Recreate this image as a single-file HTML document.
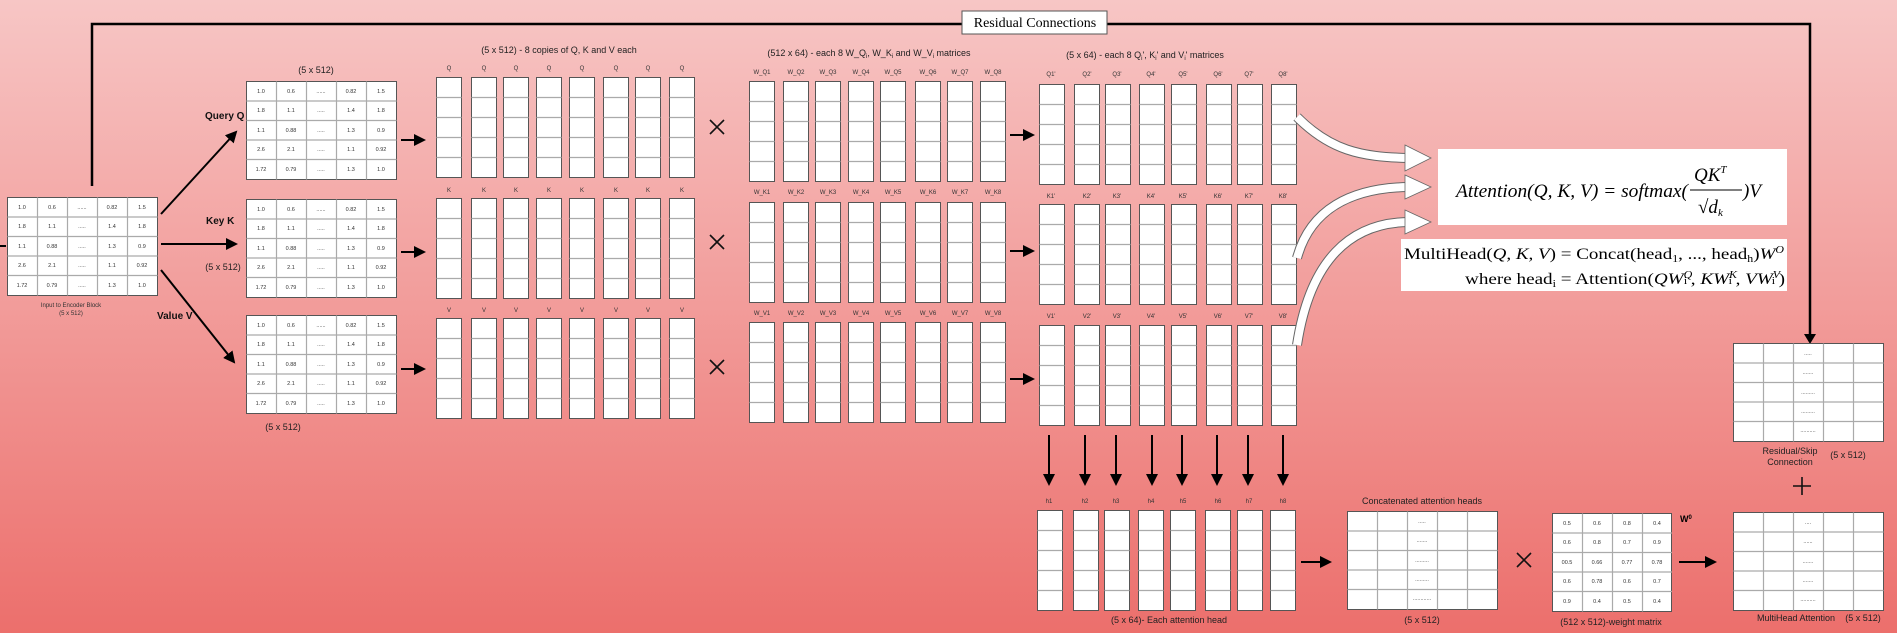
<!DOCTYPE html>
<html><head><meta charset="utf-8"><style>
html,body{margin:0;padding:0;width:1897px;height:633px;overflow:hidden}
body{background:linear-gradient(#f7c6c5,#ec6f6c)}
svg{position:absolute;left:0;top:0;font-family:"Liberation Sans",sans-serif}
.t{font-size:5.5px;fill:#333;text-anchor:middle}
.l{font-size:6px;fill:#333;text-anchor:middle}
.h{font-size:9px;fill:#222;text-anchor:middle}
.b{font-size:10px;font-weight:bold;fill:#111}
</style></head><body>
<svg width="1897" height="633" viewBox="0 0 1897 633">
<defs>
<marker id="ah" markerWidth="6" markerHeight="6" refX="5" refY="3" orient="auto" markerUnits="strokeWidth"><path d="M0,0 L6,3 L0,6 z" fill="#000"/></marker>
<symbol id="col" width="26" height="102" overflow="visible">
<rect x="0.5" y="0.5" width="25" height="100" fill="#fff" stroke="#555"/>
<path d="M0.5 20.5H25.5M0.5 40.5H25.5M0.5 60.5H25.5M0.5 80.5H25.5" stroke="#aaa" stroke-width="1.2"/>
</symbol>
<symbol id="m5" width="152" height="100" overflow="visible">
<rect x="0.5" y="0.5" width="150" height="98" fill="#fff" stroke="#555"/>
<path d="M30.5 0.5V98.5M60.5 0.5V98.5M90.5 0.5V98.5M120.5 0.5V98.5M0.5 20H150.5M0.5 39.5H150.5M0.5 59H150.5M0.5 78.5H150.5" stroke="#aaa" stroke-width="1.2"/>
</symbol>
<symbol id="m4" width="121" height="100" overflow="visible">
<rect x="0.5" y="0.5" width="119" height="98" fill="#fff" stroke="#555"/>
<path d="M30.5 0.5V98.5M60.5 0.5V98.5M90.5 0.5V98.5M0.5 20H120M0.5 39.5H120M0.5 59H120M0.5 78.5H120" stroke="#aaa" stroke-width="1.2"/>
</symbol>
</defs>

<path d="M92 186V24H1810V338" fill="none" stroke="#000" stroke-width="2.5"/>
<path d="M1804 334L1810 344L1816 334z" fill="#000"/>
<rect x="962" y="11" width="145" height="23" fill="#fff" stroke="#555"/>
<text x="1035" y="27" style="font-family:'Liberation Serif',serif;font-size:14px;text-anchor:middle">Residual Connections</text>

<path d="M0 246H6" stroke="#000" stroke-width="2"/>
<use href="#m5" x="7" y="197"/>
<g class="t">
<text x="22" y="209">1.0</text><text x="52" y="209">0.6</text><text x="82" y="209">......</text><text x="112" y="209">0.82</text><text x="142" y="209">1.5</text>
<text x="22" y="228">1.8</text><text x="52" y="228">1.1</text><text x="82" y="228">.....</text><text x="112" y="228">1.4</text><text x="142" y="228">1.8</text>
<text x="22" y="248">1.1</text><text x="52" y="248">0.88</text><text x="82" y="248">.....</text><text x="112" y="248">1.3</text><text x="142" y="248">0.9</text>
<text x="22" y="267">2.6</text><text x="52" y="267">2.1</text><text x="82" y="267">.....</text><text x="112" y="267">1.1</text><text x="142" y="267">0.92</text>
<text x="22" y="287">1.72</text><text x="52" y="287">0.79</text><text x="82" y="287">.....</text><text x="112" y="287">1.3</text><text x="142" y="287">1.0</text>
</g>
<text x="71" y="307" class="l">Input to Encoder Block</text>
<text x="71" y="315" class="l">(5 x 512)</text>

<g stroke="#000" stroke-width="2" marker-end="url(#ah)" fill="none">
<path d="M161 214L236 132"/><path d="M161 244L236 244"/><path d="M161 270L234 362"/>
<path d="M401 140L424 140"/><path d="M401 252L424 252"/><path d="M401 369L424 369"/>
<path d="M1010 135L1033 135"/><path d="M1010 251L1033 251"/><path d="M1010 379L1033 379"/>
<path d="M1301 562L1330 562"/><path d="M1679 562L1715 562"/>
</g>

<use href="#m5" x="246" y="81"/><use href="#m5" x="246" y="199"/><use href="#m5" x="246" y="315"/>
<g class="t" transform="translate(239,-116)">
<text x="22" y="209">1.0</text><text x="52" y="209">0.6</text><text x="82" y="209">......</text><text x="112" y="209">0.82</text><text x="142" y="209">1.5</text>
<text x="22" y="228">1.8</text><text x="52" y="228">1.1</text><text x="82" y="228">.....</text><text x="112" y="228">1.4</text><text x="142" y="228">1.8</text>
<text x="22" y="248">1.1</text><text x="52" y="248">0.88</text><text x="82" y="248">.....</text><text x="112" y="248">1.3</text><text x="142" y="248">0.9</text>
<text x="22" y="267">2.6</text><text x="52" y="267">2.1</text><text x="82" y="267">.....</text><text x="112" y="267">1.1</text><text x="142" y="267">0.92</text>
<text x="22" y="287">1.72</text><text x="52" y="287">0.79</text><text x="82" y="287">.....</text><text x="112" y="287">1.3</text><text x="142" y="287">1.0</text>
</g>
<g class="t" transform="translate(239,2)">
<text x="22" y="209">1.0</text><text x="52" y="209">0.6</text><text x="82" y="209">......</text><text x="112" y="209">0.82</text><text x="142" y="209">1.5</text>
<text x="22" y="228">1.8</text><text x="52" y="228">1.1</text><text x="82" y="228">.....</text><text x="112" y="228">1.4</text><text x="142" y="228">1.8</text>
<text x="22" y="248">1.1</text><text x="52" y="248">0.88</text><text x="82" y="248">.....</text><text x="112" y="248">1.3</text><text x="142" y="248">0.9</text>
<text x="22" y="267">2.6</text><text x="52" y="267">2.1</text><text x="82" y="267">.....</text><text x="112" y="267">1.1</text><text x="142" y="267">0.92</text>
<text x="22" y="287">1.72</text><text x="52" y="287">0.79</text><text x="82" y="287">.....</text><text x="112" y="287">1.3</text><text x="142" y="287">1.0</text>
</g>
<g class="t" transform="translate(239,118)">
<text x="22" y="209">1.0</text><text x="52" y="209">0.6</text><text x="82" y="209">......</text><text x="112" y="209">0.82</text><text x="142" y="209">1.5</text>
<text x="22" y="228">1.8</text><text x="52" y="228">1.1</text><text x="82" y="228">.....</text><text x="112" y="228">1.4</text><text x="142" y="228">1.8</text>
<text x="22" y="248">1.1</text><text x="52" y="248">0.88</text><text x="82" y="248">.....</text><text x="112" y="248">1.3</text><text x="142" y="248">0.9</text>
<text x="22" y="267">2.6</text><text x="52" y="267">2.1</text><text x="82" y="267">.....</text><text x="112" y="267">1.1</text><text x="142" y="267">0.92</text>
<text x="22" y="287">1.72</text><text x="52" y="287">0.79</text><text x="82" y="287">.....</text><text x="112" y="287">1.3</text><text x="142" y="287">1.0</text>
</g>
<text x="316" y="73" class="h">(5 x 512)</text>
<text x="205" y="119" class="b">Query Q</text>
<text x="206" y="224" class="b">Key K</text>
<text x="223" y="270" class="h">(5 x 512)</text>
<text x="157" y="319" class="b">Value V</text>
<text x="283" y="430" class="h">(5 x 512)</text>

<text x="559" y="53" class="h">(5 x 512) - 8 copies of Q, K and V each</text>
<g>
<use href="#col" x="436" y="77"/><use href="#col" x="471" y="77"/><use href="#col" x="503" y="77"/><use href="#col" x="536" y="77"/><use href="#col" x="569" y="77"/><use href="#col" x="603" y="77"/><use href="#col" x="635" y="77"/><use href="#col" x="669" y="77"/>
<use href="#col" x="436" y="198"/><use href="#col" x="471" y="198"/><use href="#col" x="503" y="198"/><use href="#col" x="536" y="198"/><use href="#col" x="569" y="198"/><use href="#col" x="603" y="198"/><use href="#col" x="635" y="198"/><use href="#col" x="669" y="198"/>
<use href="#col" x="436" y="318"/><use href="#col" x="471" y="318"/><use href="#col" x="503" y="318"/><use href="#col" x="536" y="318"/><use href="#col" x="569" y="318"/><use href="#col" x="603" y="318"/><use href="#col" x="635" y="318"/><use href="#col" x="669" y="318"/>
</g>
<g class="l">
<text x="449" y="70">Q</text><text x="484" y="70">Q</text><text x="516" y="70">Q</text><text x="549" y="70">Q</text><text x="582" y="70">Q</text><text x="616" y="70">Q</text><text x="648" y="70">Q</text><text x="682" y="70">Q</text>
<text x="449" y="192">K</text><text x="484" y="192">K</text><text x="516" y="192">K</text><text x="549" y="192">K</text><text x="582" y="192">K</text><text x="616" y="192">K</text><text x="648" y="192">K</text><text x="682" y="192">K</text>
<text x="449" y="312">V</text><text x="484" y="312">V</text><text x="516" y="312">V</text><text x="549" y="312">V</text><text x="582" y="312">V</text><text x="616" y="312">V</text><text x="648" y="312">V</text><text x="682" y="312">V</text>
</g>
<g stroke="#111" stroke-width="1.6">
<path d="M710 120L724 134M724 120L710 134"/><path d="M710 235L724 249M724 235L710 249"/><path d="M710 360L724 374M724 360L710 374"/>
<path d="M1517 553L1531 567M1531 553L1517 567"/>
<path d="M1802 477V495M1793 486H1811"/>
</g>

<text x="869" y="56" class="h">(512 x 64) - each 8 W_Q<tspan font-size="6" dy="2">i</tspan><tspan dy="-2">, W_K</tspan><tspan font-size="6" dy="2">i</tspan><tspan dy="-2"> and W_V</tspan><tspan font-size="6" dy="2">i</tspan><tspan dy="-2"> matrices</tspan></text>
<g>
<use href="#col" x="749" y="81"/><use href="#col" x="783" y="81"/><use href="#col" x="815" y="81"/><use href="#col" x="848" y="81"/><use href="#col" x="880" y="81"/><use href="#col" x="915" y="81"/><use href="#col" x="947" y="81"/><use href="#col" x="980" y="81"/>
<use href="#col" x="749" y="202"/><use href="#col" x="783" y="202"/><use href="#col" x="815" y="202"/><use href="#col" x="848" y="202"/><use href="#col" x="880" y="202"/><use href="#col" x="915" y="202"/><use href="#col" x="947" y="202"/><use href="#col" x="980" y="202"/>
<use href="#col" x="749" y="322"/><use href="#col" x="783" y="322"/><use href="#col" x="815" y="322"/><use href="#col" x="848" y="322"/><use href="#col" x="880" y="322"/><use href="#col" x="915" y="322"/><use href="#col" x="947" y="322"/><use href="#col" x="980" y="322"/>
</g>
<g class="l">
<text x="762" y="74">W_Q1</text><text x="796" y="74">W_Q2</text><text x="828" y="74">W_Q3</text><text x="861" y="74">W_Q4</text><text x="893" y="74">W_Q5</text><text x="928" y="74">W_Q6</text><text x="960" y="74">W_Q7</text><text x="993" y="74">W_Q8</text>
<text x="762" y="194">W_K1</text><text x="796" y="194">W_K2</text><text x="828" y="194">W_K3</text><text x="861" y="194">W_K4</text><text x="893" y="194">W_K5</text><text x="928" y="194">W_K6</text><text x="960" y="194">W_K7</text><text x="993" y="194">W_K8</text>
<text x="762" y="315">W_V1</text><text x="796" y="315">W_V2</text><text x="828" y="315">W_V3</text><text x="861" y="315">W_V4</text><text x="893" y="315">W_V5</text><text x="928" y="315">W_V6</text><text x="960" y="315">W_V7</text><text x="993" y="315">W_V8</text>
</g>

<text x="1145" y="58" class="h">(5 x 64) - each 8 Q<tspan font-size="6" dy="2">i</tspan><tspan dy="-2">', K</tspan><tspan font-size="6" dy="2">i</tspan><tspan dy="-2">' and V</tspan><tspan font-size="6" dy="2">i</tspan><tspan dy="-2">' matrices</tspan></text>
<g>
<use href="#col" x="1039" y="84"/><use href="#col" x="1074" y="84"/><use href="#col" x="1105" y="84"/><use href="#col" x="1139" y="84"/><use href="#col" x="1171" y="84"/><use href="#col" x="1206" y="84"/><use href="#col" x="1237" y="84"/><use href="#col" x="1271" y="84"/>
<use href="#col" x="1039" y="204"/><use href="#col" x="1074" y="204"/><use href="#col" x="1105" y="204"/><use href="#col" x="1139" y="204"/><use href="#col" x="1171" y="204"/><use href="#col" x="1206" y="204"/><use href="#col" x="1237" y="204"/><use href="#col" x="1271" y="204"/>
<use href="#col" x="1039" y="325"/><use href="#col" x="1074" y="325"/><use href="#col" x="1105" y="325"/><use href="#col" x="1139" y="325"/><use href="#col" x="1171" y="325"/><use href="#col" x="1206" y="325"/><use href="#col" x="1237" y="325"/><use href="#col" x="1271" y="325"/>
<use href="#col" x="1037" y="510"/><use href="#col" x="1073" y="510"/><use href="#col" x="1104" y="510"/><use href="#col" x="1138" y="510"/><use href="#col" x="1170" y="510"/><use href="#col" x="1205" y="510"/><use href="#col" x="1237" y="510"/><use href="#col" x="1270" y="510"/>
</g>
<g class="l">
<text x="1051" y="76">Q1'</text><text x="1087" y="76">Q2'</text><text x="1117" y="76">Q3'</text><text x="1151" y="76">Q4'</text><text x="1183" y="76">Q5'</text><text x="1218" y="76">Q6'</text><text x="1249" y="76">Q7'</text><text x="1283" y="76">Q8'</text>
<text x="1051" y="198">K1'</text><text x="1087" y="198">K2'</text><text x="1117" y="198">K3'</text><text x="1151" y="198">K4'</text><text x="1183" y="198">K5'</text><text x="1218" y="198">K6'</text><text x="1249" y="198">K7'</text><text x="1283" y="198">K8'</text>
<text x="1051" y="318">V1'</text><text x="1087" y="318">V2'</text><text x="1117" y="318">V3'</text><text x="1151" y="318">V4'</text><text x="1183" y="318">V5'</text><text x="1218" y="318">V6'</text><text x="1249" y="318">V7'</text><text x="1283" y="318">V8'</text>
<text x="1049" y="503">h1</text><text x="1085" y="503">h2</text><text x="1116" y="503">h3</text><text x="1151" y="503">h4</text><text x="1183" y="503">h5</text><text x="1218" y="503">h6</text><text x="1249" y="503">h7</text><text x="1283" y="503">h8</text>
</g>
<g stroke="#000" stroke-width="2" marker-end="url(#ah)">
<path d="M1049 435V484"/><path d="M1085 435V484"/><path d="M1116 435V484"/><path d="M1152 435V484"/><path d="M1182 435V484"/><path d="M1217 435V484"/><path d="M1248 435V484"/><path d="M1283 435V484"/>
</g>
<text x="1169" y="623" class="h">(5 x 64)- Each attention head</text>

<g fill="none">
<path d="M1297 117C1330 150 1360 157 1408 158" stroke="#666" stroke-width="10"/>
<path d="M1297 117C1330 150 1360 157 1408 158" stroke="#fff" stroke-width="8"/>
<path d="M1297 258C1310 210 1350 188 1408 187" stroke="#666" stroke-width="10"/>
<path d="M1297 258C1310 210 1350 188 1408 187" stroke="#fff" stroke-width="8"/>
<path d="M1297 345C1310 260 1350 223 1408 222" stroke="#666" stroke-width="10"/>
<path d="M1297 345C1310 260 1350 223 1408 222" stroke="#fff" stroke-width="8"/>
</g>
<g fill="#fff" stroke="#666" stroke-width="0.8">
<path d="M1405 145L1431 158L1405 171z"/><path d="M1405 175L1431 187L1405 199z"/><path d="M1405 210L1431 222L1405 234z"/>
</g>

<rect x="1438" y="149" width="349" height="76" fill="#fff"/>
<g style="font-family:'Liberation Serif',serif;font-size:19px">
<text x="1456" y="197" font-style="italic" textLength="232" lengthAdjust="spacingAndGlyphs">Attention(Q, K, V) = softmax(</text>
<text x="1694" y="181" font-style="italic">QK<tspan font-size="11" dy="-8">T</tspan></text>
<path d="M1690 190H1742" stroke="#000"/>
<text x="1698" y="213" font-style="italic">√d<tspan font-size="11" dy="3">k</tspan></text>
<text x="1743" y="197" font-style="italic">)V</text>
</g>
<rect x="1401" y="239" width="386" height="52" fill="#fff"/>
<g style="font-family:'Liberation Serif',serif;font-size:16px">
<text x="1404" y="259" textLength="380" lengthAdjust="spacingAndGlyphs">MultiHead(<tspan font-style="italic">Q, K, V</tspan>) = Concat(head<tspan font-size="10" dy="3">1</tspan><tspan dy="-3">, ..., head</tspan><tspan font-size="10" dy="3">h</tspan><tspan dy="-3">)</tspan><tspan font-style="italic">W</tspan><tspan font-size="10" dy="-6" font-style="italic">O</tspan></text>
<text x="1465" y="284" textLength="320" lengthAdjust="spacingAndGlyphs">where head<tspan font-size="10" dy="3">i</tspan><tspan dy="-3"> = Attention(</tspan><tspan font-style="italic">QW</tspan><tspan font-size="10" dy="-6" font-style="italic">Q</tspan><tspan dy="6" font-size="10" dx="-7">i</tspan><tspan dx="3">, </tspan><tspan font-style="italic">KW</tspan><tspan font-size="10" dy="-6" font-style="italic">K</tspan><tspan dy="6" font-size="10" dx="-7">i</tspan><tspan dx="3">, </tspan><tspan font-style="italic">VW</tspan><tspan font-size="10" dy="-6" font-style="italic">V</tspan><tspan dy="6" font-size="10" dx="-7">i</tspan><tspan dx="3">)</tspan></text>
</g>

<text x="1422" y="504" class="h">Concatenated attention heads</text>
<use href="#m5" x="1347" y="511"/>
<g class="t" fill="#888">
<text x="1422" y="523">.....</text><text x="1422" y="542">.......</text><text x="1422" y="562">.........</text><text x="1422" y="581">.........</text><text x="1422" y="600">............</text>
</g>
<text x="1422" y="623" class="h">(5 x 512)</text>

<use href="#m4" x="1552" y="513"/>
<g class="t">
<text x="1567" y="525">0.5</text><text x="1597" y="525">0.6</text><text x="1627" y="525">0.8</text><text x="1657" y="525">0.4</text>
<text x="1567" y="544">0.6</text><text x="1597" y="544">0.8</text><text x="1627" y="544">0.7</text><text x="1657" y="544">0.9</text>
<text x="1567" y="564">00.5</text><text x="1597" y="564">0.66</text><text x="1627" y="564">0.77</text><text x="1657" y="564">0.78</text>
<text x="1567" y="583">0.6</text><text x="1597" y="583">0.78</text><text x="1627" y="583">0.6</text><text x="1657" y="583">0.7</text>
<text x="1567" y="603">0.9</text><text x="1597" y="603">0.4</text><text x="1627" y="603">0.5</text><text x="1657" y="603">0.4</text>
</g>
<text x="1680" y="522" style="font-size:9px;font-weight:bold">W<tspan font-size="6" dy="-3">0</tspan></text>
<text x="1611" y="625" class="h">(512 x 512)-weight matrix</text>

<use href="#m5" x="1733" y="343"/>
<g class="t" fill="#888">
<text x="1808" y="355">.....</text><text x="1808" y="374">.......</text><text x="1808" y="394">.........</text><text x="1808" y="413">.........</text><text x="1808" y="432">..........</text>
</g>
<text x="1790" y="454" class="h">Residual/Skip</text>
<text x="1790" y="465" class="h">Connection</text>
<text x="1848" y="458" class="h">(5 x 512)</text>
<use href="#m5" x="1733" y="512"/>
<g class="t" fill="#888">
<text x="1808" y="524">....</text><text x="1808" y="543">......</text><text x="1808" y="563">.......</text><text x="1808" y="582">.......</text><text x="1808" y="601">..........</text>
</g>
<text x="1796" y="621" class="h">MultiHead Attention</text>
<text x="1863" y="621" class="h">(5 x 512)</text>
</svg>
</body></html>
